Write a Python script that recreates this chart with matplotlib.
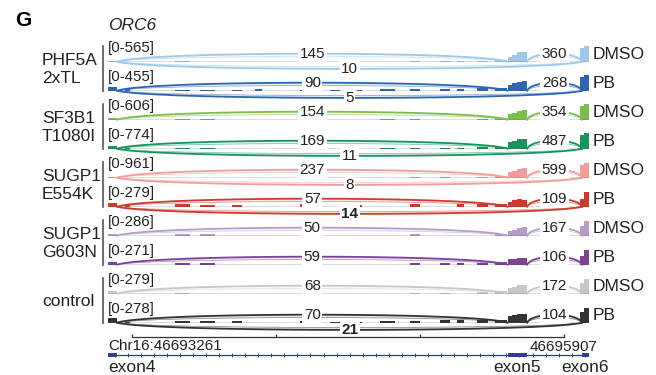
import numpy as np
import matplotlib.pyplot as plt
from matplotlib.lines import Line2D

plt.rcParams['font.family'] = ['Liberation Sans', 'DejaVu Sans']

# genomic window on chr16 and the ORC6 gene structure in it
view_start, view_end = 46693114, 46696060
ruler_start, ruler_end = 46693261, 46695907
exon_names = ["exon4", "exon5", "exon6"]
exon_starts = [46693114, 46695561, 46696017]
exon_ends = [46693170, 46695681, 46696060]

group_names = ["PHF5A\n2xTL", "SF3B1\nT1080I", "SUGP1\nE554K", "SUGP1\nG603N", "control"]
conditions = ["DMSO", "PB"] * 5
track_colors = ["#9fc9ea", "#2c66b1", "#7bbf4b", "#16955f", "#f39c9c",
                "#cf3a2d", "#b59dcb", "#7e3f97", "#c8c8c8", "#333333"]
scale_max = [565, 455, 606, 774, 961, 279, 286, 271, 279, 278]

# junction read counts: exon4-exon5, exon5-exon6, exon4-exon6 (skipping)
junc_e4_e5 = [145, 90, 154, 169, 237, 57, 50, 59, 68, 70]
junc_e5_e6 = [360, 268, 354, 487, 599, 109, 167, 106, 172, 104]
junc_e4_e6 = [10, 5, None, 11, 8, 14, None, None, None, 21]
skip_bold = [False, False, False, False, False, True, False, False, False, True]

# read coverage
cov_exon4 = [40, 110, 60, 120, 70, 70, 30, 40, 40, 90]
cov_exon5 = [[180, 250, 330, 340], [170, 230, 260, 270], [200, 260, 330, 350],
             [300, 360, 450, 480], [330, 420, 520, 560], [90, 110, 130, 120],
             [90, 110, 140, 150], [90, 100, 110, 110], [100, 120, 150, 160],
             [110, 140, 150, 150]]
cov_exon6 = [[480, 540], [380, 440], [500, 580], [650, 740], [750, 900],
             [140, 265], [170, 270], [140, 255], [180, 265], [180, 260]]
intron_bin_starts = [46693218, 46693524, 46693678, 46693874, 46694014, 46694290, 46694474,
                     46694639, 46694780, 46694964, 46695148, 46695252, 46695374, 46695484]
intron_bin_ends = [46693249, 46693616, 46693769, 46693935, 46694057, 46694364, 46694535,
                   46694670, 46694872, 46695025, 46695209, 46695295, 46695442, 46695558]
cov_intron = [
    [0, 20, 0, 0, 0, 0, 0, 0, 0, 25, 30, 20, 30, 60],
    [40, 30, 30, 30, 40, 30, 25, 30, 40, 50, 60, 50, 70, 90],
    [0, 30, 30, 0, 0, 0, 0, 0, 20, 30, 0, 0, 30, 60],
    [40, 40, 50, 0, 0, 0, 0, 0, 40, 50, 50, 50, 60, 90],
    [0, 0, 0, 0, 0, 0, 0, 0, 0, 30, 30, 0, 40, 80],
    [30, 40, 30, 30, 0, 40, 0, 30, 0, 40, 0, 40, 40, 40],
    [0, 25, 25, 0, 0, 0, 0, 0, 0, 25, 0, 0, 0, 30],
    [0, 30, 30, 0, 0, 0, 0, 0, 0, 35, 35, 35, 35, 40],
    [0, 20, 0, 0, 0, 0, 0, 0, 0, 20, 20, 0, 25, 40],
    [20, 35, 30, 25, 0, 30, 20, 20, 25, 30, 40, 50, 40, 45],
]

W, H = 656, 375
fig = plt.figure(figsize=(W / 100, H / 100), dpi=100)


def fx(px):
    return px / W


def fy(py):
    return 1 - py / H


x_left, x_right = 108, 589
track_h = 16
baselines = [61.7 + 29.0 * i for i in range(len(conditions))]


def bezier(x0, x1, peak, n=100):
    t = np.linspace(0, 1, n)[:, None]
    w = x1 - x0
    c = peak / 0.75
    p = np.array([[x0, 0], [x0 + 0.08 * w, c], [x1 - 0.08 * w, c], [x1, 0]])
    pts = (1 - t) ** 3 * p[0] + 3 * (1 - t) ** 2 * t * p[1] + 3 * (1 - t) * t ** 2 * p[2] + t ** 3 * p[3]
    return pts[:, 0], pts[:, 1]


def draw_junction(ax, x0, x1, outer, inner, count, color, bold=False):
    xo, yo = bezier(x0, x1, outer)
    xi, yi = bezier(x0, x1, inner)
    ax.fill(np.r_[xo, xi[::-1]], np.r_[yo, yi[::-1]], color=color, alpha=0.1, lw=0,
            clip_on=False, zorder=3)
    ax.plot(xo, yo, color=color, lw=1.3, clip_on=False, zorder=4)
    ax.plot(xi, yi, color=color, lw=0.5, alpha=0.6, clip_on=False, zorder=4)
    ax.text((x0 + x1) / 2, outer, str(count), ha='center', va='center', fontsize=11,
            fontweight='bold' if bold else 'normal', color='#222222', zorder=5, clip_on=False,
            bbox=dict(boxstyle='square,pad=0.1', fc='white', ec='none'))


for j, b in enumerate(baselines):
    ax = fig.add_axes([fx(x_left), fy(b), fx(x_right) - fx(x_left), track_h / H])
    ax.set_xlim(view_start, view_end)
    ax.set_ylim(0, scale_max[j])
    ax.axis('off')
    col = track_colors[j]
    top = scale_max[j]

    for s, e, v in zip(intron_bin_starts, intron_bin_ends, cov_intron[j]):
        if v:
            ax.fill_between([s, e], 0, v, color=col, lw=0)
    ax.fill_between([exon_starts[0], exon_ends[0]], 0, cov_exon4[j], color=col, lw=0)
    ax.stairs(cov_exon5[j], np.linspace(exon_starts[1], exon_ends[1], len(cov_exon5[j]) + 1),
              fill=True, color=col, lw=0)
    ax.stairs(cov_exon6[j], np.linspace(exon_starts[2] - 15, exon_ends[2], len(cov_exon6[j]) + 1),
              fill=True, color=col, lw=0)
    ax.axhline(0, color='#555555', lw=1.0, zorder=2)

    draw_junction(ax, exon_ends[0], exon_starts[1], 0.5 * top, 0.32 * top, junc_e4_e5[j], col)
    draw_junction(ax, exon_ends[1], exon_starts[2], 0.5 * top, 0.32 * top, junc_e5_e6[j], col)
    if junc_e4_e6[j] is not None:
        draw_junction(ax, exon_ends[0], exon_starts[2], -0.45 * top, -0.3 * top,
                      junc_e4_e6[j], col, bold=skip_bold[j])

    ax.text(0, 0.88, f"[0-{scale_max[j]}]", transform=ax.transAxes, fontsize=10.8,
            ha='left', va='center', color='#222222')
    ax.text(1.008, 0.45, conditions[j], transform=ax.transAxes, fontsize=12.5,
            ha='left', va='center', color='#222222')

# sample group labels with bars
for g, name in enumerate(group_names):
    top = baselines[2 * g] - 16
    bottom = baselines[2 * g + 1]
    fig.add_artist(Line2D([fx(102.5)] * 2, [fy(top), fy(bottom)], color='#555555', lw=1.2))
    fig.text(fx(42), fy((top + bottom) / 2 + 1.5), name, ha='left', va='center',
             multialignment='left', fontsize=12.5, linespacing=1.25, color='#222222')

fig.text(fx(15), fy(20.5), "G", fontsize=15, fontweight='bold', va='center', ha='left')
fig.text(fx(108), fy(26), "ORC6", fontsize=12.5, style='italic', va='center', ha='left',
         color='#222222')

# coordinate ruler and gene model
gene_col = "#2f3d9c"
ax_g = fig.add_axes([fx(x_left), 0, fx(x_right) - fx(x_left), 50 / H])
ax_g.set_xlim(view_start, view_end)
ax_g.set_ylim(375, 325)
ax_g.axis('off')

ax_g.plot([ruler_start, ruler_end], [336.5, 336.5], color='#333333', lw=0.9)
ax_g.vlines(np.linspace(ruler_start, ruler_end, 4), 333.5, 336.5, color='#333333', lw=0.9)
ax_g.text(view_start, 346, f"Chr16:{ruler_start}", fontsize=11, ha='left', va='center',
          color='#222222')
ax_g.text(ruler_end, 347, str(ruler_end), fontsize=11, ha='center', va='center',
          color='#222222')

ax_g.plot([view_start, view_end], [354.5, 354.5], color=gene_col, lw=0.9)
chevrons = np.arange(view_start + 40, view_end, 80)
ax_g.plot(chevrons, np.full(len(chevrons), 354.5), ls='none', marker='|', ms=3,
          mew=0.7, color=gene_col)
for k, (s, e) in enumerate(zip(exon_starts, exon_ends)):
    ax_g.fill_between([s, e], 352.5, 356.5, color=gene_col, lw=0, zorder=3)
    if k == 0:
        ax_g.text(s, 368, exon_names[k], fontsize=12.5, ha='left', va='center', color='#222222')
    else:
        ax_g.text((s + e) / 2, 368, exon_names[k], fontsize=12.5, ha='center', va='center',
                  color='#222222')

fig.savefig("out.png", dpi=100)
